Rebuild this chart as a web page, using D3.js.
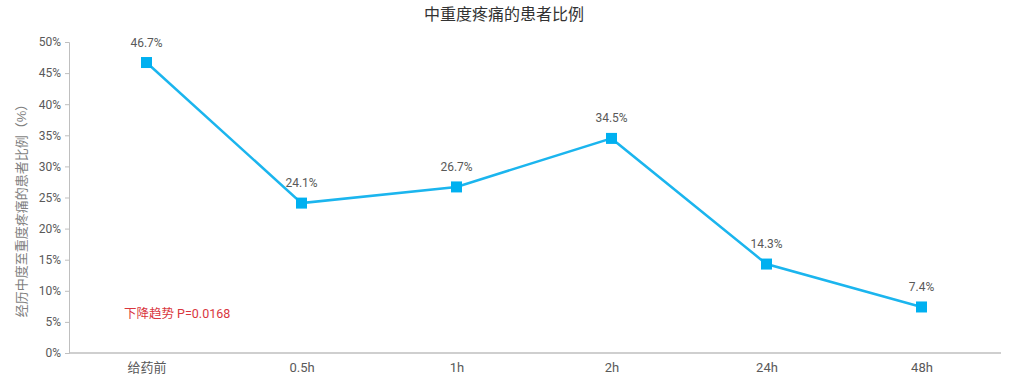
<!DOCTYPE html>
<html>
<head>
<meta charset="utf-8">
<script src="https://cdn.jsdelivr.net/npm/d3@7"></script>
<style>
  body { margin: 0; background: #fff; }
  text { font-family: "Liberation Sans", "Noto Sans CJK SC", sans-serif; }
</style>
</head>
<body>
<div id="chart-area"></div>
<script>
const categories = ["给药前", "0.5h", "1h", "2h", "24h", "48h"];
const values = [46.7, 24.1, 26.7, 34.5, 14.3, 7.4];
const yTicks = [0, 5, 10, 15, 20, 25, 30, 35, 40, 45, 50];

const W = 1024, H = 383;
const MARGIN = { LEFT: 69, RIGHT: 25, TOP: 42, BOTTOM: 30 };

const svg = d3.select("#chart-area").append("svg")
    .attr("width", W)
    .attr("height", H);

const x = d3.scalePoint()
    .domain(categories)
    .range([MARGIN.LEFT, W - MARGIN.RIGHT])
    .padding(0.5);

const y = d3.scaleLinear()
    .domain([0, 50])
    .range([H - MARGIN.BOTTOM, MARGIN.TOP]);

// title
svg.append("text")
    .attr("x", 504)
    .attr("y", 20)
    .attr("text-anchor", "middle")
    .attr("font-size", "16px")
    .attr("fill", "#333")
    .text("中重度疼痛的患者比例");

// y axis
const yAxis = svg.append("g")
    .attr("transform", `translate(${MARGIN.LEFT},0)`)
    .call(d3.axisLeft(y).tickValues(yTicks).tickSize(4).tickPadding(4).tickFormat(d => d + "%"));
yAxis.select(".domain").attr("stroke", "#bfbfbf");
yAxis.selectAll(".tick line").attr("stroke", "#bfbfbf");
yAxis.selectAll(".tick text").attr("fill", "#595959").attr("font-size", "12px")
    .style("font-family", "Roboto, sans-serif");

// x axis
const xAxis = svg.append("g")
    .attr("transform", `translate(0,${H - MARGIN.BOTTOM})`)
    .call(d3.axisBottom(x).tickSize(0).tickPadding(10));
xAxis.select(".domain").attr("stroke", "#bfbfbf").attr("stroke-width", 1.5)
    .attr("d", `M${MARGIN.LEFT},0H${W - MARGIN.RIGHT + 2}`);
xAxis.selectAll(".tick text").attr("fill", "#595959").attr("font-size", "13px")
    .style("font-family", "Roboto, 'Noto Sans CJK SC', sans-serif");

// y axis label
svg.append("text")
    .attr("transform", `translate(26, ${(MARGIN.TOP + H - MARGIN.BOTTOM) / 2 + 10}) rotate(-90)`)
    .attr("text-anchor", "middle")
    .attr("font-size", "13px")
    .attr("fill", "#7f7f7f")
    .text("经历中度至重度疼痛的患者比例（%）");

// line
const data = categories.map((c, i) => ({ cat: c, v: values[i] }));
svg.append("path")
    .datum(data)
    .attr("fill", "none")
    .attr("stroke", "#1bb5ee")
    .attr("stroke-width", 2.5)
    .attr("d", d3.line().x(d => x(d.cat)).y(d => y(d.v)));

const s = 11;
svg.selectAll("rect.marker")
    .data(data)
    .enter().append("rect")
    .attr("class", "marker")
    .attr("x", d => x(d.cat) - s / 2)
    .attr("y", d => y(d.v) - s / 2)
    .attr("width", s)
    .attr("height", s)
    .attr("fill", "#00b0f0");

svg.selectAll("text.lbl")
    .data(data)
    .enter().append("text")
    .attr("class", "lbl")
    .attr("x", d => x(d.cat))
    .attr("y", d => y(d.v) - 16)
    .attr("text-anchor", "middle")
    .attr("font-size", "12px")
    .attr("fill", "#595959")
    .style("font-family", "Roboto, sans-serif")
    .text(d => d.v + "%");

// annotation
svg.append("text")
    .attr("x", 124)
    .attr("y", 318)
    .attr("font-size", "12.5px")
    .attr("fill", "#d9363e")
    .style("font-family", "Roboto, 'Noto Sans CJK SC', sans-serif")
    .text("下降趋势 P=0.0168");
</script>
</body>
</html>
